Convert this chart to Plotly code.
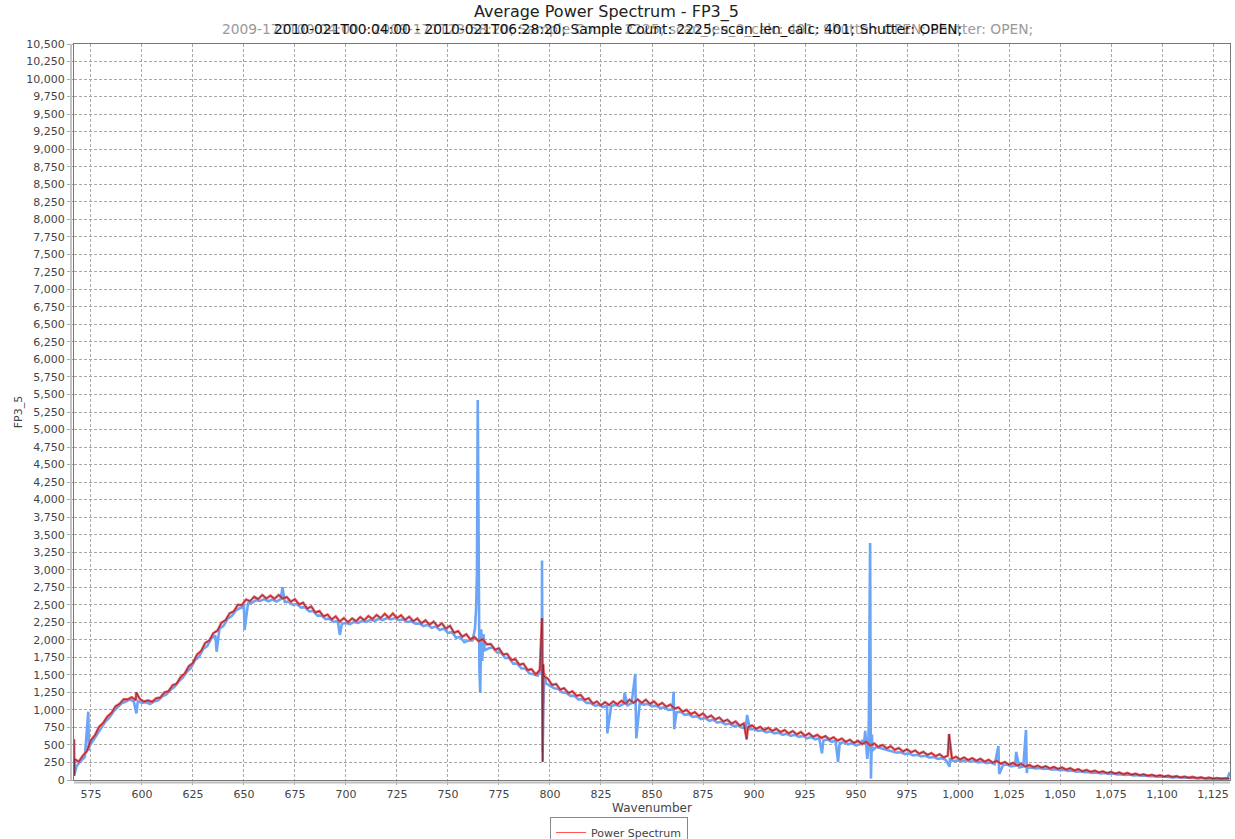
import numpy as np
import plotly.graph_objects as go

# ---------------- data ----------------
title_text = "Average Power Spectrum - FP3_5"
subtitle_black = "2010-021T00:04:00 - 2010-021T06:28:20; Sample Count: 2225; scan_len_calc: 401; Shutter: OPEN;"
subtitle_gray = "2009-171T00:04:00 - 2009-171T23:58:20; Sample Count: 2225; scan_len_0_calc: 401; Shutter: OPEN; Shutter: OPEN;"

x_ticks = list(range(575, 1126, 25))
y_ticks = list(range(0, 10501, 250))

# red "Power Spectrum" series, x = 567, 569, ..., 1133
red_x = np.arange(567, 1134, 2)
red_y = [
    300, 260, 345, 410, 570, 640, 760, 815, 905, 955, 1050, 1085, 1150, 1150, 1180, 1140, 1155,
    1120, 1135, 1115, 1165, 1175, 1250, 1265, 1350, 1375, 1470, 1520, 1625, 1670, 1790, 1840, 1955, 1990, 2095, 2130, 2245, 2280, 2380, 2405, 2500, 2495,
    2575, 2550, 2615, 2580, 2640, 2590, 2630, 2585, 2640, 2590, 2610, 2545, 2580, 2505, 2530, 2445, 2475, 2390, 2410, 2335, 2360, 2290, 2335, 2260, 2310,
    2250, 2305, 2265, 2325, 2280, 2340, 2295, 2355, 2310, 2370, 2315, 2375, 2310, 2350, 2285, 2330, 2265, 2305, 2235, 2280, 2215, 2260, 2190, 2235, 2160,
    2200, 2100, 2125, 2045, 2080, 2005, 2040, 1980, 2010, 1935, 1940, 1860, 1880, 1790, 1800, 1710, 1725, 1645, 1660, 1570, 1580, 1505, 1570, 1480, 1445,
    1355, 1370, 1290, 1310, 1240, 1265, 1200, 1215, 1145, 1165, 1090, 1120, 1065, 1110, 1070, 1120, 1080, 1130, 1090, 1145, 1100, 1150, 1100, 1145, 1085,
    1120, 1065, 1100, 1045, 1075, 1020, 1035, 975, 1000, 940, 970, 915, 950, 890, 920, 865, 890, 835, 860, 805, 835, 775, 805, 750, 780,
    730, 760, 712, 745, 700, 730, 682, 712, 665, 698, 650, 685, 632, 665, 615, 645, 598, 628, 578, 610, 562, 592, 545, 575, 528,
    560, 512, 545, 492, 520, 472, 500, 452, 480, 432, 455, 408, 438, 395, 422, 375, 402, 358, 385, 340, 368, 322, 348, 305, 332,
    292, 322, 285, 312, 275, 302, 262, 288, 248, 275, 232, 258, 218, 245, 205, 230, 192, 215, 182, 205, 176, 198, 166, 188, 158,
    178, 148, 168, 136, 156, 124, 144, 116, 134, 108, 124, 98, 116, 90, 108, 82, 100, 75, 90, 68, 82, 60, 75, 54, 68,
    48, 62, 42, 55, 36, 50, 31, 44, 26, 38, 22, 33, 19, 28, 17, 25, 20,
]
# narrow features of the red series
red_spike_x = [566.75, 566.85, 597.2, 796.1, 796.4, 796.7, 896.4, 995.6]
red_spike_y = [580, 60, 1250, 2310, 260, 1650, 580, 656]

# blue overlay series, x = 568, 570, ..., 1132
blue_x = np.arange(568, 1133, 2)
blue_y = [
    200, 270, 330, 420, 560, 660, 740, 830, 890, 975, 1030, 1095, 1115, 1150, 1120, 1125, 1100,
    1110, 1085, 1120, 1135, 1195, 1220, 1290, 1330, 1405, 1460, 1545, 1600, 1710, 1760, 1870, 1910, 2020, 2060, 2160, 2200, 2300, 2340, 2420, 2450, 2480,
    2520, 2530, 2565, 2555, 2580, 2550, 2575, 2545, 2580, 2540, 2545, 2500, 2510, 2460, 2465, 2405, 2410, 2345, 2345, 2295, 2300, 2255, 2270, 2230, 2240,
    2225, 2255, 2240, 2270, 2255, 2285, 2270, 2300, 2280, 2310, 2290, 2310, 2280, 2290, 2255, 2265, 2230, 2235, 2195, 2215, 2170, 2190, 2140, 2160, 2100,
    2110, 2030, 2040, 1965, 1990, 1990, 2900, 1900, 1850, 1880, 1890, 1820, 1820, 1740, 1740, 1660, 1660, 1590, 1590, 1520, 1510, 1490, 1500, 1380, 1350,
    1310, 1300, 1250, 1245, 1200, 1200, 1150, 1150, 1100, 1100, 1060, 1070, 1040, 1060, 1050, 1075, 1055, 1085, 1065, 1095, 1070, 1095, 1075, 1085, 1050,
    1060, 1025, 1035, 1000, 1005, 965, 975, 930, 940, 900, 910, 870, 885, 845, 860, 820, 830, 795, 805, 770, 780, 745, 750, 725, 725,
    700, 710, 680, 695, 665, 675, 645, 660, 630, 645, 615, 628, 595, 612, 580, 595, 562, 578, 545, 560, 528, 540, 510, 525, 495,
    510, 540, 450, 420, 470, 455, 440, 420, 410, 390, 395, 370, 380, 350, 360, 335, 345, 318, 330, 300, 312, 285, 295, 270, 280,
    270, 280, 260, 270, 250, 262, 240, 250, 225, 235, 210, 220, 195, 205, 180, 192, 172, 180, 165, 172, 158, 165, 148, 155, 140,
    145, 130, 135, 120, 125, 110, 115, 102, 108, 95, 100, 86, 92, 80, 84, 72, 78, 66, 70, 60, 63, 54, 58, 48, 52,
    44, 46, 38, 42, 33, 36, 28, 32, 24, 28, 20, 24, 16, 20, 14, 18,
]
blue_spike_x = [566.9, 573.7, 574.2, 597.3, 636.6, 650.3, 668.9, 697.0,
                763.2, 763.8, 764.2, 764.6, 765.0, 765.4, 765.8, 766.3, 766.8, 767.4,
                795.8, 796.1, 796.4, 796.7, 797.3, 828.1, 836.6, 841.8, 842.3, 860.6, 860.9,
                896.6, 933.3, 941.2, 953.0, 954.5, 955.5, 956.3, 956.9, 957.3, 957.8,
                995.9, 1019.8, 1020.2, 1028.5, 1033.3, 1033.7, 1133.2]
blue_spike_y = [80, 975, 480, 950, 1830, 2140, 2750, 2070,
                2150, 2450, 2950, 5420, 2600, 1600, 1240, 2150, 1700, 2080,
                1620, 3130, 400, 1020, 1520, 665, 1245, 1515, 595, 1260, 725,
                928, 380, 257, 560, 700, 300, 900, 3380, 20, 650,
                190, 485, 86, 400, 713, 100, 110]


def merged(xs, ys, sx, sy):
    pts = sorted(list(zip(list(xs), list(ys))) + list(zip(sx, sy)))
    return [p[0] for p in pts], [p[1] for p in pts]


rx, ry = merged(red_x, red_y, red_spike_x, red_spike_y)
bx, by = merged(blue_x, blue_y, blue_spike_x, blue_spike_y)

# ---------------- figure ----------------
FONT = "DejaVu Sans"
W, H = 1235, 839
L, R, T, B = 74, 5, 44, 59
PW = W - L - R
PH = H - T - B


def px2paper_x(px):
    return (px - L) / PW


def py2paper_y(py):
    return (H - B - py) / PH


fig = go.Figure()
fig.add_trace(go.Scatter(x=bx, y=by, mode="lines", line=dict(color="#6aa5f7", width=2.6),
                         showlegend=False, hoverinfo="skip"))
fig.add_trace(go.Scatter(x=rx, y=ry, mode="lines", line=dict(color="#f24a4a", width=2.6),
                         opacity=0.9, name="Power Spectrum", showlegend=False))
fig.add_trace(go.Scatter(x=rx, y=ry, mode="lines", line=dict(color="#6e2c4a", width=0.9),
                         showlegend=False, hoverinfo="skip"))
# legend entry
fig.add_trace(go.Scatter(x=[None], y=[None], mode="lines", line=dict(color="#ff5555", width=1),
                         name="Power Spectrum", showlegend=True))

fig.update_layout(
    width=W, height=H,
    margin=dict(l=L, r=R, t=T, b=B, autoexpand=False),
    paper_bgcolor="white", plot_bgcolor="white",
    font=dict(family=FONT, size=11, color="#444444"),
    showlegend=True,
    legend=dict(orientation="h", x=px2paper_x(619), xanchor="center",
                y=py2paper_y(817), yanchor="top",
                bordercolor="#888888", borderwidth=1, bgcolor="white",
                font=dict(family=FONT, size=11, color="#444444"),
                itemwidth=30, tracegroupgap=0),
    xaxis=dict(range=[566.7, 1133.3], tickvals=x_ticks, tickformat=",d", automargin=False,
               showgrid=True, gridcolor="#a8a8a8", griddash="3px,2px", gridwidth=1,
               zeroline=False, showline=True, linecolor="#777777", linewidth=1, mirror=True,
               ticks="outside", ticklen=4, tickcolor="#aaaaaa",
               tickfont=dict(family=FONT, size=11, color="#444444"),
               title=dict(text="Wavenumber", font=dict(family=FONT, size=12, color="#444444"), standoff=2)),
    yaxis=dict(range=[0, 10500], tickvals=y_ticks, tickformat=",d", automargin=False,
               showgrid=True, gridcolor="#a8a8a8", griddash="3px,2px", gridwidth=1,
               zeroline=False, showline=True, linecolor="#777777", linewidth=1, mirror=True,
               ticks="outside", ticklen=6, tickcolor="#aaaaaa",
               tickfont=dict(family=FONT, size=11, color="#444444"),
               title=dict(text="FP3_5", font=dict(family=FONT, size=11, color="#444444"), standoff=1)),
    shapes=[
        dict(type="line", xref="paper", yref="paper", x0=px2paper_x(71), x1=px2paper_x(71),
             y0=0, y1=1, line=dict(color="#c4c4c4", width=2)),
        dict(type="line", xref="paper", yref="paper", x0=0, x1=1,
             y0=py2paper_y(782.5), y1=py2paper_y(782.5), line=dict(color="#bdbdbd", width=2)),
    ],
    annotations=[
        dict(text=title_text, xref="paper", yref="paper", x=px2paper_x(606), y=py2paper_y(12),
             xanchor="center", yanchor="middle", showarrow=False,
             font=dict(family=FONT, size=16, color="#222222")),
        dict(text=subtitle_gray, xref="paper", yref="paper", x=px2paper_x(220), y=py2paper_y(29),
             xanchor="left", yanchor="middle", showarrow=False,
             font=dict(family=FONT, size=13.8, color="#9a9a9a")),
        dict(text=subtitle_black, xref="paper", yref="paper", x=px2paper_x(272), y=py2paper_y(29),
             xanchor="left", yanchor="middle", showarrow=False,
             font=dict(family=FONT, size=13.8, color="#111111")),
    ],
)

fig.write_html("out.html", config={"displayModeBar": False},
               post_script="document.body.style.margin='0';document.body.style.overflow='hidden';")
